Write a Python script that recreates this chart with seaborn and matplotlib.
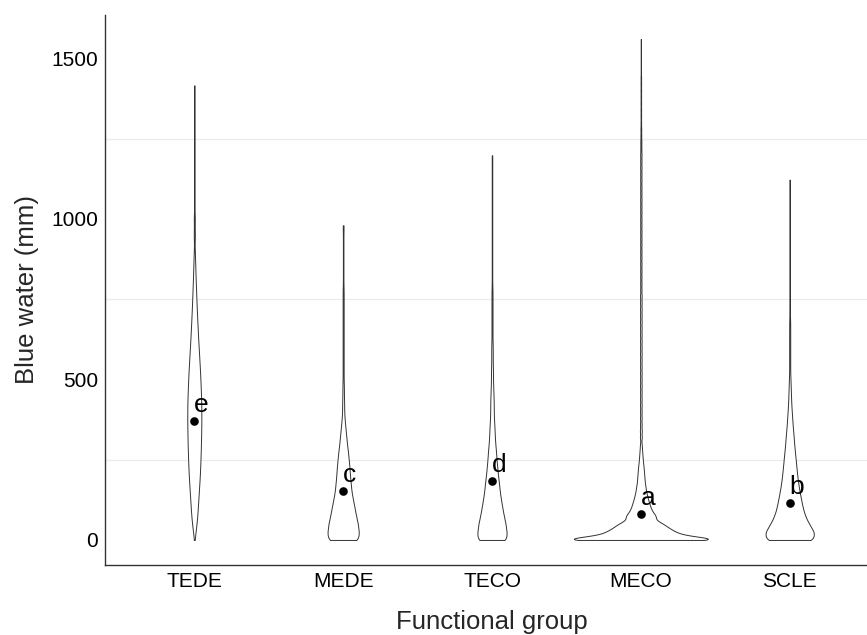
import numpy as np
import pandas as pd
import matplotlib
matplotlib.use("Agg")
import matplotlib.pyplot as plt
from matplotlib.ticker import FixedLocator
import seaborn as sns

groups = ["TEDE", "MEDE", "TECO", "MECO", "SCLE"]
group_means = [370, 152, 183, 80, 114]
group_letters = ["e", "c", "d", "a", "b"]
# number of cells per group and KDE bandwidth (mm) for each violin
n_cells = [4200, 9300, 8700, 40000, 14400]
bandwidths = [20, 15, 15, 8, 15]

# blue water bins (mm) and relative frequency of cells in each bin
tede_bins = list(range(0, 925, 25)) + list(range(950, 1450, 50)) + [1416]
tede_freq = [5, 25, 45, 60, 70, 80, 90, 100, 110, 117,
             123, 128, 133, 136, 139, 140, 140, 138, 134, 128,
             122, 114, 105, 96, 87, 78, 70, 62, 55, 48,
             42, 36, 30, 25, 20, 15, 11,
             20, 18, 7, 5, 5, 5, 5, 4, 4, 3,
             2]

mede_bins = list(range(0, 1000, 25)) + [980]
mede_freq = [62, 62, 58, 51, 45, 39, 33, 30, 27, 25,
             22, 19, 15, 12, 9, 6, 4, 4, 3, 3,
             2, 2, 2, 2, 2, 2, 2, 2, 2, 2,
             2, 2, 1, 1, 1, 1, 1, 1, 1, 1,
             1]

teco_bins = list(range(0, 1200, 25)) + [1198]
teco_freq = [60, 58, 54, 47, 41, 36, 31, 28, 24, 21,
             18, 16, 13, 11, 10, 8, 7, 7, 6, 5,
             4, 4, 3, 3, 3, 2, 2, 2, 2, 2,
             2, 2, 1, 1, 1, 1, 1, 1, 1, 1,
             1, 1, 1, 1, 1, 1, 1, 1,
             1]

meco_bins = (list(range(0, 65, 5)) + list(range(70, 310, 10))
             + list(range(320, 1580, 20)))
meco_freq = [365, 105, 95, 86, 78, 71, 65, 60, 55, 50, 46, 42, 39,
             68, 56, 46, 40, 36, 32, 28, 25, 22, 20,
             18, 16, 15, 14, 13, 12, 11, 9, 8, 7, 6, 5, 4, 4,
             7, 7, 6, 6, 6, 6, 6, 6, 6, 6,
             6, 6, 6, 6, 6, 6, 6, 6, 6, 6,
             6, 6, 6, 5, 5, 5, 5, 5, 5, 5,
             5, 5, 5, 5, 5, 5, 5, 5, 5, 5,
             5, 5, 5, 5, 5, 4, 4, 3, 3, 2,
             2, 2, 2, 2, 2, 2, 2, 1, 1, 1,
             1, 1, 1]

scle_bins = list(range(0, 1125, 25)) + [1122]
scle_freq = [96, 94, 74, 59, 50, 44, 38, 33, 29, 26,
             23, 20, 17, 15, 12, 10, 8, 6, 5, 4,
             3, 2, 2, 2, 2, 2, 2, 2, 1, 1,
             1, 1, 1, 1, 1, 1, 1, 1, 1, 1,
             1, 1, 1, 1, 1,
             1]

bins = [tede_bins, mede_bins, teco_bins, meco_bins, scle_bins]
freqs = [tede_freq, mede_freq, teco_freq, meco_freq, scle_freq]

frames = []
for name, b, f, n in zip(groups, bins, freqs, n_cells):
    f = np.array(f, dtype=float)
    reps = np.round(f / f.sum() * n).astype(int)
    frames.append(pd.DataFrame({"group": name, "blue_water": np.repeat(b, reps)}))
df = pd.concat(frames, ignore_index=True)

bw_by_top = {max(b): h for b, h in zip(bins, bandwidths)}


def group_bw(kde):
    # fixed bandwidth per group, picked by the group's max value
    x = kde.dataset[0]
    top = min(bw_by_top, key=lambda t: abs(t - x.max()))
    return bw_by_top[top] / x.std(ddof=1)


sns.set_style("white")
plt.rcParams["font.family"] = ["Liberation Sans", "DejaVu Sans"]

fig = plt.figure(figsize=(8.67, 6.35), dpi=100)
ax = fig.add_axes([105 / 867, 70 / 635, 774 / 867, 550 / 635])

sns.violinplot(data=df, x="group", y="blue_water", order=groups,
               color="white", saturation=1, linecolor="#333333", linewidth=0.7,
               inner=None, cut=0, width=0.9, density_norm="count",
               bw_method=group_bw, gridsize=2000, ax=ax)

sns.pointplot(x=groups, y=group_means, order=groups, color="black",
              markers="o", linestyle="none", markersize=6.2,
              markeredgewidth=0, errorbar=None, ax=ax)

for i, (m, lab) in enumerate(zip(group_means, group_letters)):
    ax.annotate(lab, (i, m), xytext=(0, 6.5), textcoords="offset points",
                ha="left", va="baseline", fontsize=19, color="black")

ax.set_xlim(-0.6, 4.6)
ax.set_ylim(-78, 1635)
ax.set_yticks([0, 500, 1000, 1500])
ax.yaxis.set_minor_locator(FixedLocator([250, 750, 1250]))
ax.grid(which="minor", axis="y", color="#ebebeb", linewidth=0.9)
ax.grid(which="major", visible=False)
ax.set_axisbelow(True)

sns.despine(ax=ax)
for side in ["left", "bottom"]:
    ax.spines[side].set_color("#333333")
    ax.spines[side].set_linewidth(1.0)
ax.tick_params(axis="both", which="major", length=3, width=1, color="#333333",
               labelsize=15, labelcolor="black", pad=2)
ax.tick_params(axis="y", which="minor", length=0)

ax.set_xlabel("Functional group", fontsize=18.5)
ax.set_ylabel("Blue water (mm)", fontsize=18.5)
ax.xaxis.set_label_coords(0.5, -0.082)
ax.yaxis.set_label_coords(-0.085, 0.5)

fig.savefig("out.png", dpi=100)
